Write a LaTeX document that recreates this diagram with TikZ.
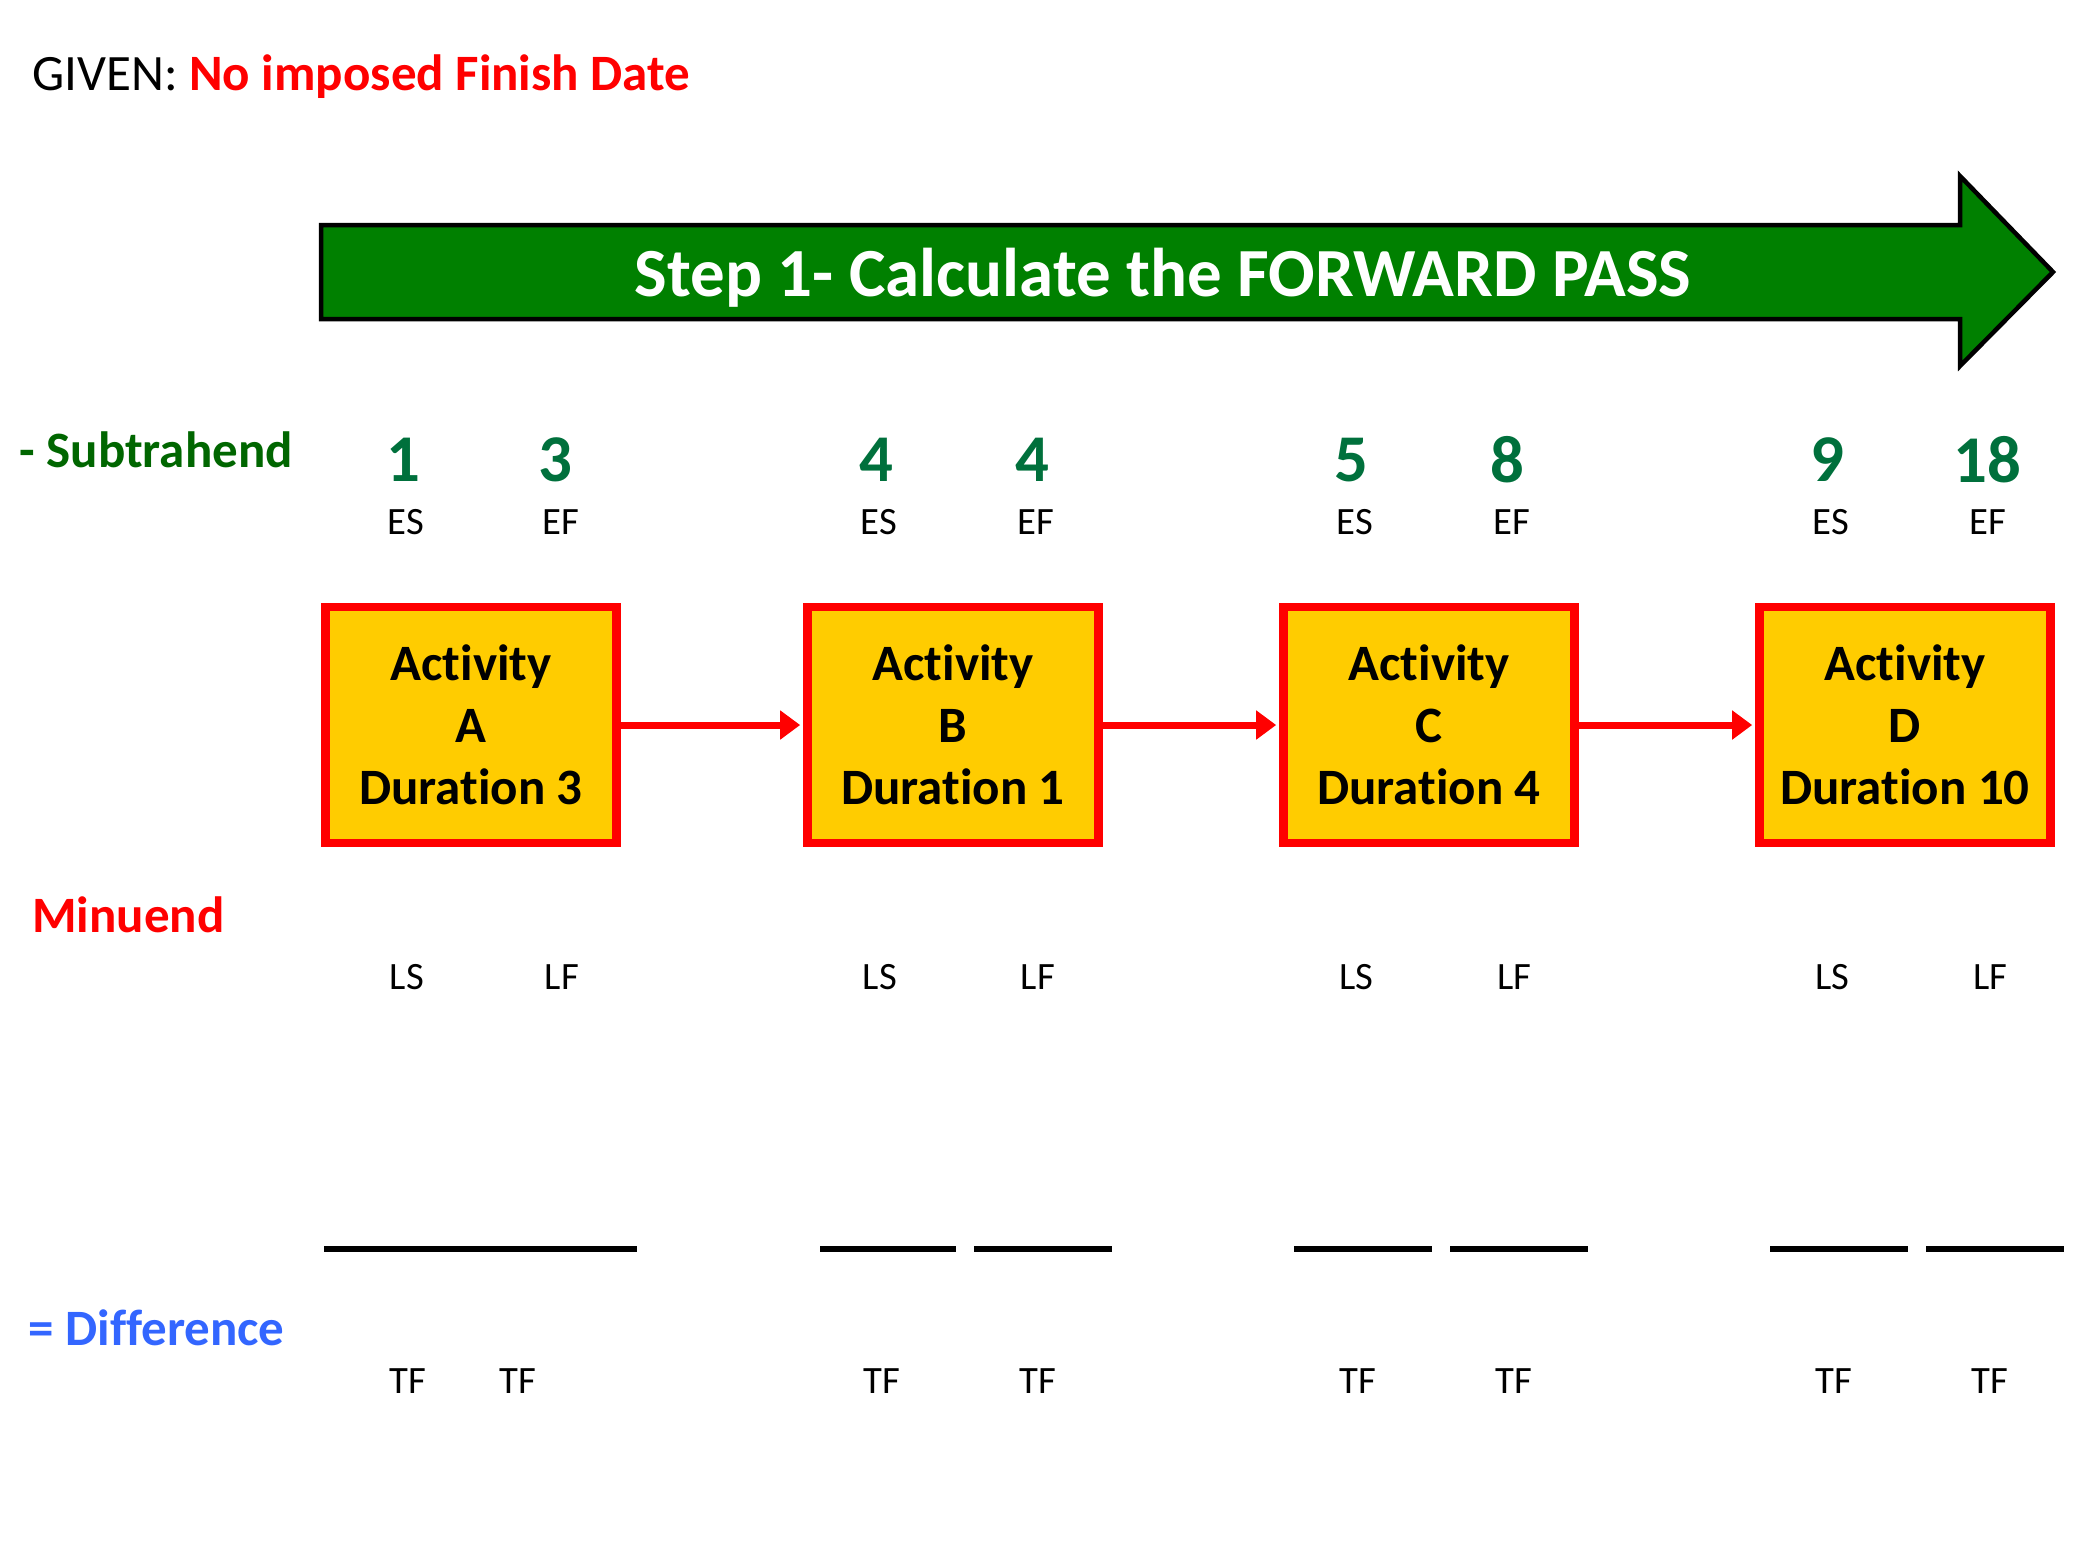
\documentclass[tikz,border=0pt]{standalone}
\usepackage{fontspec}
\setmainfont{Carlito}[Ligatures=NoCommon]
\usetikzlibrary{arrows.meta,positioning}

\definecolor{passgreen}{RGB}{0,128,0}
\definecolor{numgreen}{RGB}{0,112,60}
\definecolor{subgreen}{RGB}{0,102,0}
\definecolor{diffblue}{RGB}{51,102,255}
\definecolor{actyellow}{RGB}{255,204,0}

\begin{document}
\begin{tikzpicture}[
    x=0.01cm, y=-0.01cm,
    actbox/.style={rectangle, draw=red, line width=0.085cm, fill=actyellow, minimum width=2.91cm, minimum height=2.36cm, inner sep=0pt, align=center, font=\fontsize{14.5}{17.6}\selectfont\bfseries},
    flow/.style={-{Triangle[length=0.2cm,width=0.28cm]}, draw=red, line width=0.07cm, shorten >=0.03cm},
    num/.style={text=numgreen, font=\fontsize{19}{22}\selectfont\bfseries},
    tag/.style={font=\fontsize{11}{13}\selectfont},
    rowlabel/.style={anchor=base west, font=\fontsize{14.5}{17}\selectfont\bfseries},
    steptext/.style={anchor=base, text=white, font=\fontsize{19.6}{22}\selectfont\bfseries},
    blank/.style={line width=0.065cm}
]
    \useasboundingbox (0,0) rectangle (2073,1556);

    \node[anchor=base west, font=\fontsize{14.5}{17}\selectfont] (given) at (20,90) {GIVEN: \textcolor{red}{\bfseries No imposed Finish Date}};

    % big green arrow
    \draw[fill=passgreen, line width=0.045cm] (321,225) -- (1960,225) -- (1960,176) -- (2053,272) -- (1960,366) -- (1960,319) -- (321,319) -- cycle;
    \node[steptext] (pass) at (1163,296) {Step 1- Calculate the FORWARD PASS};

    % row labels
    \node[rowlabel, text=subgreen] (subtr) at (7,467) {- Subtrahend};
    \node[rowlabel, text=red] (minu) at (20,932) {Minuend};
    \node[rowlabel, text=diffblue] (diff) at (16,1345) {= Difference};

    % early start / finish
    \node[num] (esA) at (403,460) {1};
    \node[num] (efA) at (555,460) {3};
    \node[num] (esB) at (876,460) {4};
    \node[num] (efB) at (1032,460) {4};
    \node[num] (esC) at (1351,460) {5};
    \node[num] (efC) at (1507,460) {8};
    \node[num] (esD) at (1827,460) {9};
    \node[num] (efD) at (1987,460) {18};

    \node[tag] (esAt) at (406,522) {ES};
    \node[tag] (efAt) at (561,522) {EF};
    \node[tag] (esBt) at (879,522) {ES};
    \node[tag] (efBt) at (1036,522) {EF};
    \node[tag] (esCt) at (1355,522) {ES};
    \node[tag] (efCt) at (1512,522) {EF};
    \node[tag] (esDt) at (1831,522) {ES};
    \node[tag] (efDt) at (1988,522) {EF};

    % activities
    \node[actbox] (actA) at (471,725) {Activity\\A\\Duration 3};
    \node[actbox] (actB) at (953,725) {Activity\\B\\Duration 1};
    \node[actbox] (actC) at (1429,725) {Activity\\C\\Duration 4};
    \node[actbox] (actD) at (1905,725) {Activity\\D\\Duration 10};

    \draw[flow] (actA) -- (actB);
    \draw[flow] (actB) -- (actC);
    \draw[flow] (actC) -- (actD);

    % late start / finish
    \node[tag] (lsAt) at (407,977) {LS};
    \node[tag] (lfAt) at (562,977) {LF};
    \node[tag] (lsBt) at (880,977) {LS};
    \node[tag] (lfBt) at (1038,977) {LF};
    \node[tag] (lsCt) at (1356,977) {LS};
    \node[tag] (lfCt) at (1514,977) {LF};
    \node[tag] (lsDt) at (1832,977) {LS};
    \node[tag] (lfDt) at (1990,977) {LF};

    % blanks for the subtraction
    \draw[blank] (324,1249) -- (637,1249);
    \draw[blank] (820,1249) -- (956,1249);
    \draw[blank] (974,1249) -- (1112,1249);
    \draw[blank] (1294,1249) -- (1432,1249);
    \draw[blank] (1450,1249) -- (1588,1249);
    \draw[blank] (1770,1249) -- (1908,1249);
    \draw[blank] (1926,1249) -- (2064,1249);

    % total float
    \node[tag] (tfA1) at (408,1381) {TF};
    \node[tag] (tfA2) at (518,1381) {TF};
    \node[tag] (tfB1) at (882,1381) {TF};
    \node[tag] (tfB2) at (1038,1381) {TF};
    \node[tag] (tfC1) at (1358,1381) {TF};
    \node[tag] (tfC2) at (1514,1381) {TF};
    \node[tag] (tfD1) at (1834,1381) {TF};
    \node[tag] (tfD2) at (1990,1381) {TF};
\end{tikzpicture}
\end{document}
